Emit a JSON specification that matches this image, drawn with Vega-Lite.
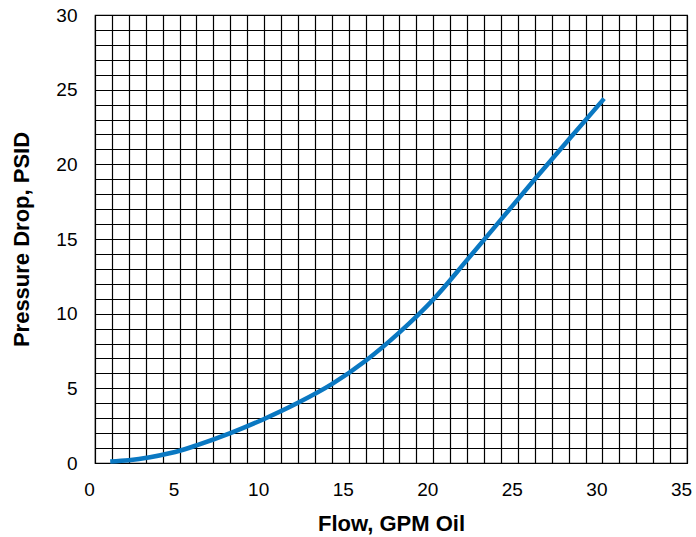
{
  "$schema": "https://vega.github.io/schema/vega-lite/v6.json",
  "autosize": "none",
  "width": 592,
  "height": 448,
  "padding": {"left": 95, "top": 15, "right": 9, "bottom": 74},
  "background": "white",
  "config": {
    "view": {"stroke": "black", "strokeWidth": 1.2},
    "font": "Liberation Sans"
  },
  "data": {
    "values": [
      {"flow": 0.9, "dp": 0.1},
      {"flow": 2, "dp": 0.18},
      {"flow": 3.25, "dp": 0.38},
      {"flow": 4.4, "dp": 0.65},
      {"flow": 5, "dp": 0.82},
      {"flow": 6, "dp": 1.18},
      {"flow": 8, "dp": 2.0},
      {"flow": 10, "dp": 2.95},
      {"flow": 12, "dp": 4.03},
      {"flow": 14, "dp": 5.28},
      {"flow": 16, "dp": 6.85},
      {"flow": 18, "dp": 8.75},
      {"flow": 20, "dp": 10.95},
      {"flow": 22, "dp": 13.6},
      {"flow": 24, "dp": 16.3},
      {"flow": 26, "dp": 19.0},
      {"flow": 28, "dp": 21.65},
      {"flow": 30.1, "dp": 24.4}
    ]
  },
  "mark": {"type": "line", "color": "#0a78c2", "strokeWidth": 4.5, "interpolate": "monotone", "strokeCap": "butt"},
  "encoding": {
    "x": {
      "field": "flow",
      "type": "quantitative",
      "scale": {"domain": [0, 35], "nice": false, "zero": false},
      "axis": {
        "title": "Flow, GPM Oil",
        "titleFont": "Liberation Sans",
        "titleFontSize": 22,
        "titleFontWeight": "bold",
        "titleColor": "black",
        "titlePadding": 14,
        "values": [0,1,2,3,4,5,6,7,8,9,10,11,12,13,14,15,16,17,18,19,20,21,22,23,24,25,26,27,28,29,30,31,32,33,34,35],
        "labelExpr": "datum.value % 5 === 0 ? datum.label : ''",
        "labelFontSize": 19,
        "labelColor": "black",
        "labelPadding": 17,
        "labelOffset": -6,
        "labelFlush": false,
        "ticks": false,
        "domainColor": "black",
        "grid": true,
        "gridColor": "black",
        "gridOpacity": 1,
        "gridWidth": 1.2
      }
    },
    "y": {
      "field": "dp",
      "type": "quantitative",
      "scale": {"domain": [0, 30], "nice": false},
      "axis": {
        "title": "Pressure Drop, PSID",
        "titleFont": "Liberation Sans",
        "titleFontSize": 22,
        "titleFontWeight": "bold",
        "titleColor": "black",
        "titlePadding": 22,
        "values": [0,1,2,3,4,5,6,7,8,9,10,11,12,13,14,15,16,17,18,19,20,21,22,23,24,25,26,27,28,29,30],
        "labelExpr": "datum.value % 5 === 0 ? datum.label : ''",
        "labelFontSize": 19,
        "labelColor": "black",
        "labelPadding": 18,
        "labelFlush": false,
        "ticks": false,
        "domainColor": "black",
        "grid": true,
        "gridColor": "black",
        "gridOpacity": 1,
        "gridWidth": 1.2
      }
    }
  }
}
